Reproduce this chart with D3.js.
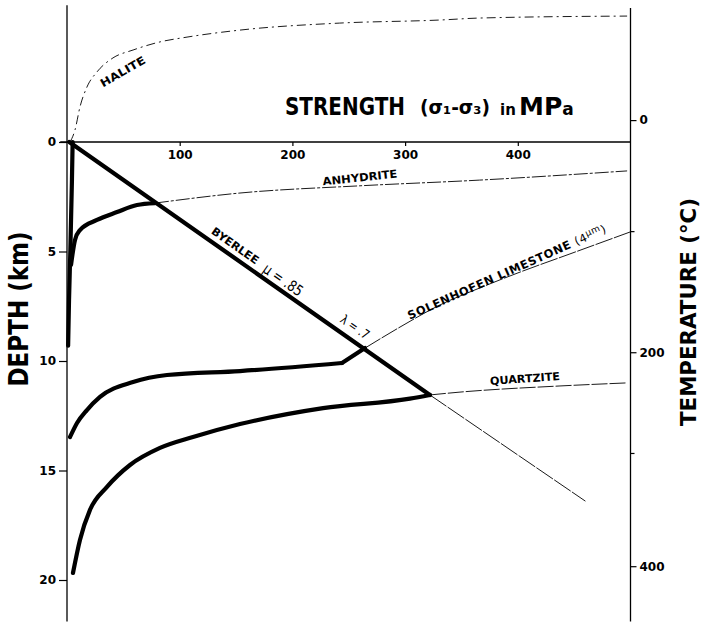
<!DOCTYPE html>
<html>
<head>
<meta charset="utf-8">
<script src="https://cdn.jsdelivr.net/npm/d3@7"></script>
<style>
  body { margin: 0; background: #fff; }
  text { font-family: "DejaVu Sans", "Liberation Sans", sans-serif; fill: #000; }
</style>
</head>
<body>
<svg id="chart"></svg>
<script>
// [strength MPa, depth km]; negative depth = above the surface line (halite branch)
const haliteUpper = [[2.7, 0], [7.1, -0.55], [11.5, -1.6], [17.7, -2.51], [26.6, -3.2], [40.8, -3.84],
  [58.6, -4.2], [82.5, -4.57], [106.5, -4.79], [153.5, -5.11], [242, -5.43], [331, -5.57], [366, -5.66], [497, -5.75]];
const haliteDeep = [[5, 0], [4.4, 1.7], [3, 4.9], [1.8, 7.2], [1, 9.3]];
const anhydriteThick = [[3.6, 5.6], [7.1, 4.47], [11.5, 4.02], [26.6, 3.56], [44.4, 3.2], [62.1, 2.88], [78, 2.79]];
const anhydriteThin = [[78, 2.79], [153.5, 2.33], [260, 2.0], [366, 1.74], [497, 1.32]];
const limestoneThick = [[2.7, 13.47], [8.9, 12.83], [17.7, 12.24], [29.3, 11.64], [58.6, 10.96], [88.7, 10.64],
  [153.5, 10.46], [244, 10.09]];
const limestoneKink = [[244, 10.09], [264.4, 9.41]];
const limestoneThin = [[264.4, 9.41], [295.5, 8.45], [331, 7.44], [366.5, 6.66], [402, 5.94], [446.3, 5.11], [499.6, 4.11]];
const quartziteThick = [[5.3, 19.68], [11.5, 18.17], [20.4, 16.8], [35.5, 15.75], [55.9, 14.75], [82.5, 13.97],
  [111.8, 13.47], [153.5, 12.88], [227.2, 12.15], [304.3, 11.72], [322, 11.55]];
const quartziteThin = [[322, 11.55], [348.7, 11.42], [437.4, 11.14], [496.9, 11.0]];
const byerlee = [[2, 0], [322, 11.55]];
const byerleeExt = [[322, 11.55], [460, 16.4]];

const strengthTicks = [100, 200, 300, 400];
const depthTicks = [0, 5, 10, 15, 20];
const tempTicks = [0, 100, 200, 300, 400];
const tempLabels = [0, 200, 400];
// depth (km) at which each temperature tick sits on the right-hand scale
const tempTickDepth = [-1.0, 4.07, 9.6, 14.2, 19.37];

const W = 702, H = 627;
const svg = d3.select("#chart").attr("width", W).attr("height", H);

const x = d3.scaleLinear().domain([0, 500]).range([67, 630.5]);
const y = d3.scaleLinear().domain([0, 20]).range([142, 580]);
const t = d3.scaleLinear().domain(tempTicks).range(tempTickDepth.map(y));

const line = d3.line().x(d => x(d[0])).y(d => y(d[1]));
const curve = d3.line().x(d => x(d[0])).y(d => y(d[1])).curve(d3.curveMonotoneX);
const curveV = d3.line().x(d => x(d[0])).y(d => y(d[1])).curve(d3.curveMonotoneY);

// axes
const leftAxis = svg.append("g").attr("transform", "translate(" + x(0) + ",0)")
  .call(d3.axisLeft(y).tickValues(depthTicks).tickSize(8).tickPadding(3));
leftAxis.select(".domain").remove();
leftAxis.append("line").attr("y1", y(-6.25)).attr("y2", y(21.9)).attr("stroke", "#000").attr("stroke-width", 1.3);
leftAxis.selectAll("text").style("font-size", "12px").style("font-weight", "bold");

const topAxis = svg.append("g").attr("transform", "translate(0," + y(0) + ")")
  .call(d3.axisBottom(x).tickValues(strengthTicks).tickSize(4).tickPadding(4));
topAxis.select(".domain").remove();
topAxis.append("line").attr("x1", x(-6)).attr("x2", x(500)).attr("stroke", "#000").attr("stroke-width", 1.3);
topAxis.selectAll("text").style("font-size", "12px").style("font-weight", "bold");

const rightAxis = svg.append("g").attr("transform", "translate(" + x(500) + ",0)")
  .call(d3.axisRight(t).tickValues(tempTicks).tickSize(6).tickPadding(3)
    .tickFormat(d => tempLabels.includes(d) ? d : ""));
rightAxis.select(".domain").remove();
rightAxis.append("line").attr("y1", 8).attr("y2", y(21.9)).attr("stroke", "#000").attr("stroke-width", 1.3);
rightAxis.selectAll("text").style("font-size", "12px").style("font-weight", "bold");
rightAxis.selectAll(".tick line").attr("x2", d => tempLabels.includes(d) ? 6 : 4);
svg.selectAll(".tick line").attr("stroke-width", 1.2);

// curves
const thin = (data, dash, gen) => svg.append("path").datum(data).attr("d", gen || line)
  .attr("fill", "none").attr("stroke", "#000").attr("stroke-width", 0.9)
  .attr("stroke-dasharray", dash || null);
const thick = (data, gen) => svg.append("path").datum(data).attr("d", gen || line)
  .attr("fill", "none").attr("stroke", "#000").attr("stroke-width", 4.2)
  .attr("stroke-linecap", "round").attr("stroke-linejoin", "round");

thin(haliteUpper, "9,4,2,4", curve);
thin(anhydriteThin, "14,2,3,2", curve);
thin(limestoneThin, "18,1.5", curve);
thin(quartziteThin, "16,2", curve);
thin(byerleeExt, "20,1.5");
thick(haliteDeep, curveV);
thick(anhydriteThick, curve);
thick(limestoneThick, curve);
thick(limestoneKink);
thick(quartziteThick, curve);
thick(byerlee);

// labels along the curves
const angle = (a, b) => Math.atan2(y(b[1]) - y(a[1]), x(b[0]) - x(a[0])) * 180 / Math.PI;
const label = (txt, at, rot, size, len, weight) => svg.append("text")
  .attr("transform", "translate(" + x(at[0]) + "," + y(at[1]) + ") rotate(" + rot + ")")
  .attr("text-anchor", "middle").attr("dominant-baseline", "central")
  .style("font-size", size + "px").style("font-weight", weight || "bold")
  .attr("textLength", len).attr("lengthAdjust", "spacingAndGlyphs")
  .text(txt);

const byA = angle(byerlee[0], byerlee[1]);
label("HALITE", [49.7, -3.2], -30, 11, 50);
label("ANHYDRITE", [260, 1.64], -6, 11, 75);
label("BYERLEE", [149, 4.75], byA, 11, 55);
label("\u03BC = .85", [191.7, 6.3], byA, 15, 45, "normal");
label("\u03BB = .7", [255.5, 8.45], byA, 13, 32, "normal");
label("QUARTZITE", [406.4, 10.82], -4, 11, 70);
const lime = svg.append("text")
  .attr("transform", "translate(" + x(390.4) + "," + y(5.94) + ") rotate(-24)")
  .attr("text-anchor", "middle").attr("dominant-baseline", "central")
  .style("font-size", "11.5px").style("font-weight", "bold").style("letter-spacing", "0.6px");
lime.append("tspan").text("SOLENHOFEN LIMESTONE ");
lime.append("tspan").style("font-weight", "normal").text("(4");
lime.append("tspan").style("font-weight", "normal").style("font-size", "9px").attr("dy", -3).text("\u03BCm");
lime.append("tspan").style("font-weight", "normal").attr("dy", 3).text(")");

// title
const title = svg.append("g");
title.append("text").attr("transform", "translate(285,115) scale(1,1.22)")
  .style("font-size", "20px").style("font-weight", "bold")
  .attr("textLength", 120).attr("lengthAdjust", "spacingAndGlyphs").text("STRENGTH");
title.append("text").attr("x", 420).attr("y", 114).style("font-size", "19px").style("font-weight", "bold")
  .attr("textLength", 70).attr("lengthAdjust", "spacingAndGlyphs").text("(\u03C3\u2081-\u03C3\u2083)");
title.append("text").attr("x", 500).attr("y", 115).style("font-size", "15px").style("font-weight", "bold").text("in");
const mpa = title.append("text").attr("x", 519).attr("y", 115).style("font-size", "25px").style("font-weight", "bold");
mpa.append("tspan").text("MP");
mpa.append("tspan").style("font-size", "17px").text("a");

// axis titles
svg.append("text").attr("transform", "translate(19,309) rotate(-90)")
  .attr("text-anchor", "middle").attr("dominant-baseline", "central")
  .style("font-size", "26px").style("font-weight", "bold")
  .attr("textLength", 155).attr("lengthAdjust", "spacingAndGlyphs").text("DEPTH (km)");
svg.append("text").attr("transform", "translate(688,312) rotate(-90)")
  .attr("text-anchor", "middle").attr("dominant-baseline", "central")
  .style("font-size", "22px").style("font-weight", "bold")
  .attr("textLength", 228).attr("lengthAdjust", "spacingAndGlyphs").text("TEMPERATURE (\u00B0C)");
</script>
</body>
</html>
